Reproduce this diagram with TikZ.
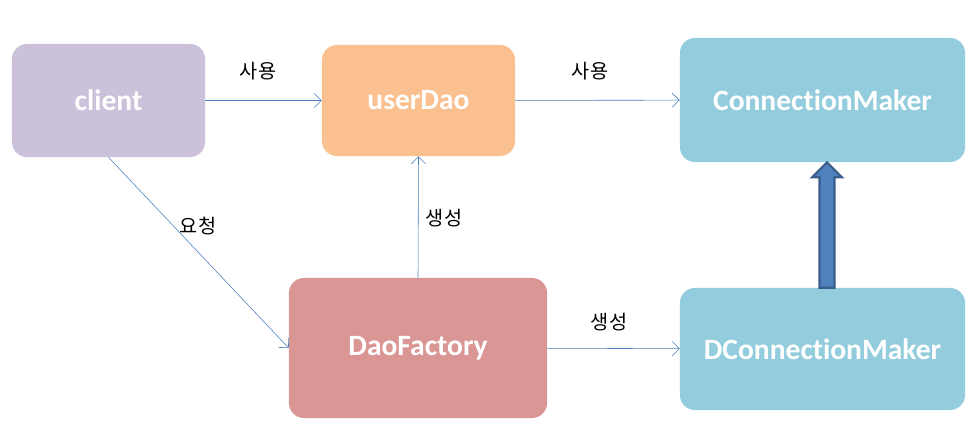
\documentclass[tikz,border=0pt]{standalone}
\usepackage{fontspec}
\setmainfont{Carlito}[Ligatures=NoCommon]
\newfontfamily\kr{Noto Sans CJK KR}
\usetikzlibrary{positioning,arrows.meta,calc}
\definecolor{clientfill}{HTML}{CCC1DA}
\definecolor{daofill}{HTML}{FAC090}
\definecolor{connfill}{HTML}{93CDDD}
\definecolor{factoryfill}{HTML}{D99694}
\definecolor{linkblue}{HTML}{4A7EBB}
\definecolor{arrowfill}{HTML}{4F81BD}
\definecolor{arrowdraw}{HTML}{385D8A}
\begin{document}
\begin{tikzpicture}[x=0.025cm,y=-0.025cm]
  \tikzstyle{box}=[rounded corners=0.375cm, text=white, inner sep=0pt, font=\bfseries\fontsize{21}{24}\selectfont]
  \tikzstyle{link}=[draw=linkblue, -{Straight Barb[length=5pt,width=10pt]}]
  \tikzstyle{lbl}=[font=\kr\fontsize{14}{16}\selectfont]
  \useasboundingbox (0,0) rectangle (976,439);

  \node[box, fill=clientfill, minimum width=4.825cm, minimum height=2.825cm] (client) at (108.5,100.5) {client};
  \node[box, fill=daofill, minimum width=4.825cm, minimum height=2.775cm] (userDao) at (418.5,100.5) {userDao};
  \node[box, fill=connfill, minimum width=7.125cm, minimum height=3.1cm] (connMaker) at (822.5,100) {ConnectionMaker};
  \node[box, fill=factoryfill, minimum width=6.45cm, minimum height=3.5cm] (daoFactory) at (418,348) {DaoFactory};
  \node[box, fill=connfill, minimum width=7.125cm, minimum height=3.05cm] (dConnMaker) at (822.5,349) {DConnectionMaker};

  \draw[link] (client) -- (userDao);
  \draw[link] (userDao) -- (connMaker);
  \draw[link] (client.south) -- (daoFactory.west);
  \draw[link] (daoFactory.north) -- (userDao.south);
  \draw[link] (daoFactory) -- (dConnMaker);

  \node[lbl] (use1) at (258,71) {사용};
  \node[lbl] (use2) at (590,71) {사용};
  \node[lbl] (ask) at (198,226) {요청};
  \node[lbl] (make1) at (444,218) {생성};
  \node[lbl] (make2) at (609,322) {생성};

  % block arrow
  \draw[fill=arrowfill, draw=arrowdraw, line width=1.5pt, line join=miter]
    ($(dConnMaker.north)+(-3,0)$) -- ($(connMaker.south)+(-3,15)$)
    -- ($(connMaker.south)+(-10.5,15)$) -- ($(connMaker.south)+(4.5,0)$)
    -- ($(connMaker.south)+(19.5,15)$) -- ($(connMaker.south)+(12,15)$)
    -- ($(dConnMaker.north)+(12,0)$) -- cycle;
\end{tikzpicture}
\end{document}
